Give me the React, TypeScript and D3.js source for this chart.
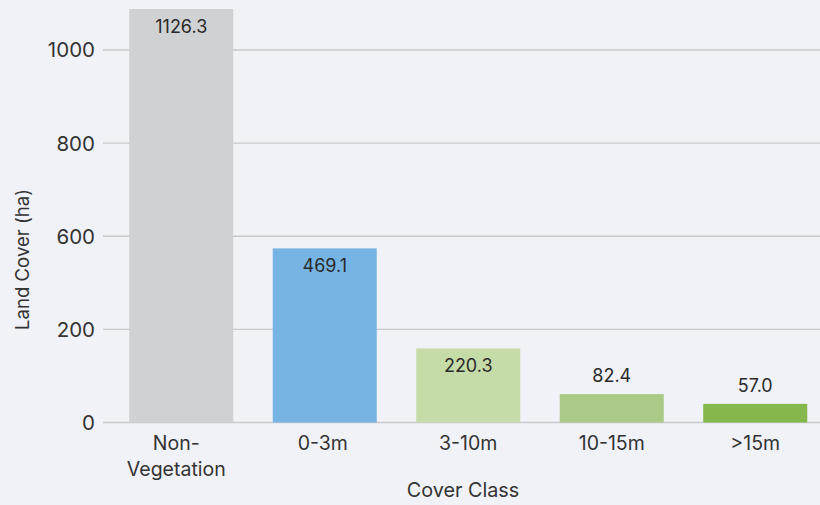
import React from "react";
import * as d3 from "d3";

const categories = ["Non-Vegetation", "0-3m", "3-10m", "10-15m", ">15m"];
const categoryLines = [["Non-", "Vegetation"], ["0-3m"], ["3-10m"], ["10-15m"], [">15m"]];
const barValues = [1088, 548, 159, 61, 40];
const labelValues = ["1126.3", "469.1", "220.3", "82.4", "57.0"];
const barColors = ["#d0d1d3", "#76b5e3", "#c6dca8", "#abc987", "#86b74c"];
const tickValues = [0, 200, 600, 800, 1000];

// layout nudges for category tick labels (px)
const labelNudge = [-5, -2, 0, 0, 0];

const W = 820;
const H = 505;
const FONT = "Inter, 'Liberation Sans', Arial, sans-serif";

export default function App() {
  const yBottom = 422.5;
  const yTop = 50;
  const n = tickValues.length;
  const y = d3
    .scaleLinear()
    .domain(tickValues)
    .range(tickValues.map((_, i) => yBottom - (i * (yBottom - yTop)) / (n - 1)));
  const x = d3
    .scaleBand<string>()
    .domain(categories)
    .range([109.5, 827])
    .paddingInner(0.275)
    .paddingOuter(0.1375);
  const bw = x.bandwidth();

  return (
    <svg
      width={W}
      height={H}
      style={{ position: "absolute", left: 0, top: 0, background: "#f1f2f8" }}
    >
      <rect x={0} y={0} width={W} height={H} fill="#f1f2f8" />
      {tickValues.map((t) => (
        <g key={t}>
          <line x1={103} x2={W} y1={y(t)} y2={y(t)} stroke="#c9c9cc" strokeWidth={1.3} />
          <text
            x={95}
            y={y(t)}
            dy="0.36em"
            textAnchor="end"
            fontFamily={FONT}
            fontSize={20.5}
            fill="#333"
          >
            {t}
          </text>
        </g>
      ))}
      {categories.map((c, i) => {
        const x0 = x(c)!;
        const top = y(barValues[i]);
        const h = y(0) - top;
        const inside = h > 50;
        return (
          <g key={c}>
            <rect x={x0} y={top} width={bw} height={h} fill={barColors[i]} />
            <text
              x={x0 + bw / 2}
              y={inside ? top + 24 : top - 12}
              textAnchor="middle"
              fontFamily={FONT}
              fontSize={18}
              fill="#2a2a2a"
            >
              {labelValues[i]}
            </text>
            {categoryLines[i].map((ln, j) => (
              <text
                key={j}
                x={x0 + bw / 2 + labelNudge[i]}
                y={450 + j * 25.5}
                textAnchor="middle"
                fontFamily={FONT}
                fontSize={19.5}
                fill="#333"
              >
                {ln}
              </text>
            ))}
          </g>
        );
      })}
      <text
        x={463}
        y={497}
        textAnchor="middle"
        fontFamily={FONT}
        fontSize={19.8}
        fill="#333"
      >
        Cover Class
      </text>
      <text
        transform={`translate(29, 259.5) rotate(-90)`}
        textAnchor="middle"
        fontFamily={FONT}
        fontSize={18.6}
        fill="#333"
      >
        Land Cover (ha)
      </text>
    </svg>
  );
}
